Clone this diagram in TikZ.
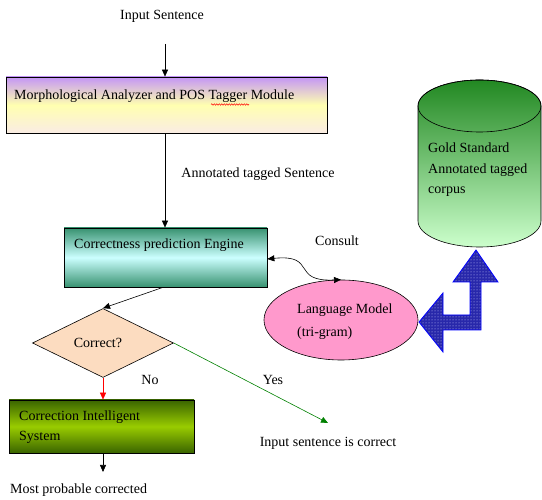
\documentclass[tikz,border=0pt]{standalone}
\usepackage{fontspec}
\setmainfont{Liberation Serif}
\usetikzlibrary{arrows.meta,shapes.geometric,decorations.pathmorphing,patterns}
\definecolor{boxpurple}{RGB}{196,150,245}
\definecolor{boxyellow}{RGB}{255,255,176}
\definecolor{boxpale}{RGB}{250,236,228}
\definecolor{tealdark}{RGB}{56,146,112}
\definecolor{tealmid}{RGB}{204,255,255}
\definecolor{greendark}{RGB}{58,100,0}
\definecolor{greenmid}{RGB}{153,204,0}
\definecolor{cyltop}{RGB}{34,136,34}
\definecolor{cylbot}{RGB}{204,255,204}
\definecolor{lmpink}{RGB}{255,153,204}
\definecolor{peach}{RGB}{252,220,192}
\definecolor{bluefill}{RGB}{40,40,170}
\definecolor{yesgreen}{RGB}{0,128,0}
\tikzset{
  txt/.style={font=\fontsize{14}{16}\selectfont, inner sep=0pt},
  ltxt/.style={txt, anchor=west},
  boxbase/.style={draw=black, line width=0.7pt, inner sep=0pt},
  arr/.style={-{Triangle[length=7pt,width=6pt]}, line width=0.6pt},
}
\begin{document}
\begin{tikzpicture}[x=1pt,y=1pt]
\useasboundingbox (0,0) rectangle (542,500);
% text labels
\node[txt] (insent) at (162,484) {Input Sentence};
\coordinate (intop) at (165,456);
% box 1
\node[boxbase, minimum width=321pt, minimum height=56pt, top color=boxpurple, bottom color=boxpale, middle color=boxyellow] (morph) at (166.5,395) {};
\node[ltxt] (morphtxt) at (14,404) {Morphological Analyzer and POS Tagger Module};
\draw[red, line width=0.5pt, decorate, decoration={snake, segment length=2.5pt, amplitude=0.7pt}] (211,395.5) -- (249,395.5);
\draw[arr] (intop) -- (morph.north -| intop);
% box 2
\node[boxbase, minimum width=203pt, minimum height=59pt, top color=tealdark, bottom color=tealdark, middle color=tealmid] (engine) at (165.5,242.5) {};
\node[ltxt] (enginetxt) at (74,255) {Correctness prediction Engine};
\draw[arr] (morph.south -| intop) -- (engine.north -| intop);
\node[txt] (annot) at (258,326) {Annotated tagged Sentence};
% language model
\node[draw=black, line width=0.6pt, ellipse, fill=lmpink, minimum width=154pt, minimum height=80pt, inner sep=0pt] (lm) at (341,180) {};
\node[ltxt] (lmtxt1) at (297,190) {Language Model};
\node[ltxt] (lmtxt2) at (297,167) {(tri-gram)};
\node[txt] (consult) at (337,259) {Consult};
\draw[{Triangle[length=7pt,width=6pt]}-{Triangle[length=7pt,width=6pt]}, line width=0.6pt]
  (engine.east |- 0,241) .. controls (318,246) and (290,218) .. (lm.north);
% cylinder
\shade[top color=cyltop, bottom color=cylbot, draw=black, line width=0.6pt]
  (418,394) -- (418,279) arc[start angle=180, end angle=360, x radius=61.5, y radius=26] -- (541,394) arc[start angle=0, end angle=180, x radius=61.5, y radius=26] -- cycle;
\draw[black, line width=0.6pt] (479.5,394) ellipse[x radius=61.5, y radius=26];
\node[ltxt] (gold1) at (428,352) {Gold Standard};
\node[ltxt] (gold2) at (428,330) {Annotated tagged};
\node[ltxt] (gold3) at (428,308) {corpus};
% blue bent arrow
\def\bluearrowpath{(476,250) -- (498,218) -- (481,218) -- (481,170) -- (443,170) -- (443,148) -- (419,178) -- (443,207) -- (443,185) -- (470,185) -- (470,218) -- (453,218) -- cycle}
\fill[bluefill] \bluearrowpath;
\fill[pattern=dots, pattern color=white!80!blue] \bluearrowpath;
\draw[blue, line width=0.8pt] \bluearrowpath;
% diamond
\node[draw=black, line width=0.6pt, diamond, fill=peach, minimum width=141pt, minimum height=69pt, inner sep=0pt] (dec) at (103,157) {};
\node[txt] (dectxt) at (98,157) {Correct?};
\draw[arr] (engine.south -| 163,0) -- (dec.north);
% correction box
\node[boxbase, minimum width=185pt, minimum height=53pt, top color=greendark, bottom color=greendark, middle color=greenmid] (corr) at (101.5,73.5) {};
\node[ltxt] (corrtxt1) at (19,83) {Correction Intelligent};
\node[ltxt] (corrtxt2) at (19,63) {System};
\draw[arr, red] (dec.south) -- (corr.north -| dec.south);
\node[txt] (no) at (150,120) {No};
\node[txt] (yes) at (273,120) {Yes};
\coordinate (yesend) at (328,77);
\draw[arr, yesgreen] (dec.east) -- (yesend);
\node[txt] (iscorrect) at (328,57) {Input sentence is correct};
\coordinate (outend) at (103,28);
\draw[arr] (corr.south -| outend) -- (outend);
\node[ltxt] (most) at (10,10) {Most probable corrected};
\end{tikzpicture}
\end{document}
